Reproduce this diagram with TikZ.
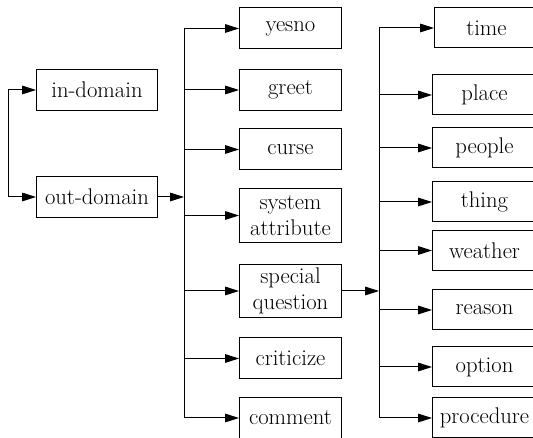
\documentclass[tikz,border=0pt]{standalone}
\usetikzlibrary{arrows.meta}

\tikzset{
  box/.style={draw, line width=0.75pt, fill=white, inner sep=1pt, align=center, anchor=west, font=\fontsize{17}{19.5}\selectfont},
  dombox/.style={box, minimum width=90.75pt, minimum height=30.5pt},
  catbox/.style={box, minimum width=76.5pt, minimum height=30.75pt},
  twobox/.style={box, minimum width=76.5pt, minimum height=40pt},
  subbox/.style={box, minimum width=78pt, minimum height=30pt},
  arr/.style={line width=0.75pt, -{Triangle[length=10.5pt,width=6.5pt]}},
}

\begin{document}
\begin{tikzpicture}[x=0.75pt,y=0.75pt,yscale=-1,xscale=1]
\useasboundingbox (0,0) rectangle (533,438);

%Domains
\node[dombox] (indomain) at (36,90) {in-domain};
\node[dombox] (outdomain) at (36,197) {out-domain};
\coordinate (dsplit) at (8,143.5);
\draw[arr] (dsplit) |- (indomain.west);
\draw[arr] (dsplit) |- (outdomain.west);

%Out-domain categories
\node[catbox] (yesno) at (239,28.5) {yesno};
\node[catbox] (greet) at (239,90) {greet};
\node[catbox] (curse) at (239,149.5) {curse};
\node[twobox] (sysattr) at (239,215.5) {system\\attribute};
\node[twobox] (special) at (239,291) {special\\question};
\node[catbox] (criticize) at (239,358.5) {criticize};
\node[catbox] (comment) at (239,418) {comment};

\coordinate (catsplit) at (184,197);
\draw[arr] (outdomain.east) -- (catsplit);
\draw[arr] (catsplit) |- (yesno.west);
\draw[arr] (catsplit) |- (greet.west);
\draw[arr] (catsplit) |- (curse.west);
\draw[arr] (catsplit) |- (sysattr.west);
\draw[arr] (catsplit) |- (special.west);
\draw[arr] (catsplit) |- (criticize.west);
\draw[arr] (catsplit) |- (comment.west);

%Special question types
\node[subbox] (time) at (434,28) {time};
\node[subbox] (place) at (432,95) {place};
\node[subbox] (people) at (432,148) {people};
\node[subbox] (thing) at (432,202) {thing};
\node[subbox] (weather) at (432,250.5) {weather};
\node[subbox] (reason) at (432,310) {reason};
\node[subbox] (option) at (432,367) {option};
\node[subbox] (procedure) at (432,418) {procedure};

\coordinate (qsplit) at (379,291);
\draw[arr] (special.east) -- (qsplit);
\draw[arr] (qsplit) |- (time.west);
\draw[arr] (qsplit) |- (place.west);
\draw[arr] (qsplit) |- (people.west);
\draw[arr] (qsplit) |- (thing.west);
\draw[arr] (qsplit) |- (weather.west);
\draw[arr] (qsplit) |- (reason.west);
\draw[arr] (qsplit) |- (option.west);
\draw[arr] (qsplit) |- (procedure.west);
\end{tikzpicture}
\end{document}
